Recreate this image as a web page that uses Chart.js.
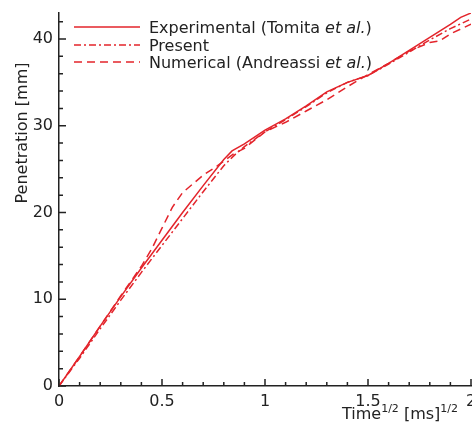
<!DOCTYPE html>
<html>
<head>
<meta charset="utf-8">
<script src="https://cdn.jsdelivr.net/npm/chart.js@4.4.1/dist/chart.umd.min.js"></script>
<style>
html,body{margin:0;padding:0;background:#fff;}
#wrap{width:472px;height:426px;position:relative;}
</style>
</head>
<body>
<div id="wrap"><canvas id="c" width="472" height="426"></canvas></div>
<script>
// ---- data ----
const expT = [0, 0.1, 0.2, 0.3, 0.4, 0.5, 0.6, 0.7, 0.8, 0.84, 0.9, 1.0, 1.1, 1.2, 1.3, 1.4, 1.5, 1.6, 1.7, 1.8, 1.9, 1.95, 2.0];
const expP = [0, 3.4, 6.9, 10.3, 13.6, 16.8, 20.0, 23.1, 26.1, 27.1, 27.9, 29.5, 30.8, 32.3, 33.9, 35.0, 35.8, 37.2, 38.7, 40.2, 41.7, 42.5, 43.0];

const preT = [0, 0.1, 0.2, 0.3, 0.4, 0.5, 0.6, 0.7, 0.8, 0.86, 0.9, 1.0, 1.1, 1.2, 1.3, 1.4, 1.5, 1.6, 1.7, 1.8, 1.9, 2.0];
const preP = [0, 3.2, 6.6, 9.9, 13.1, 16.2, 19.3, 22.4, 25.4, 26.8, 27.6, 29.3, 30.7, 32.2, 33.8, 35.0, 35.8, 37.1, 38.5, 39.9, 41.2, 42.3];

const numT = [0, 0.1, 0.2, 0.3, 0.4, 0.45, 0.5, 0.55, 0.6, 0.7, 0.77, 0.85, 0.9, 1.0, 1.1, 1.2, 1.3, 1.4, 1.5, 1.6, 1.7, 1.8, 1.85, 1.9, 2.0];
const numP = [0, 3.4, 6.9, 10.4, 13.8, 15.8, 18.2, 20.6, 22.3, 24.3, 25.4, 26.8, 27.4, 29.3, 30.4, 31.7, 33.0, 34.5, 35.9, 37.2, 38.6, 39.6, 39.8, 40.6, 41.7];

const xTicks = [0, 0.5, 1, 1.5, 2];
const xMinor = [0.1,0.2,0.3,0.4,0.6,0.7,0.8,0.9,1.1,1.2,1.3,1.4,1.6,1.7,1.8,1.9];
const yTicks = [0, 10, 20, 30, 40];
const yMinor = [2,4,6,8,12,14,16,18,22,24,26,28,32,34,36,38,42];

const legendLabels = [
  [["Experimental (Tomita ", false], ["et al.", true], [")", false]],
  [["Present", false]],
  [["Numerical (Andreassi ", false], ["et al.", true], [")", false]]
];
const xTitle = [["Time", false], ["1/2", true], [" [ms]", false], ["1/2", true]];
const yTitle = "Penetration [mm]";

// ---- style ----
const RED = '#e3242b';
const FONT = 'DejaVu Sans';
const AX = '#222';

function pts(t, p){ return t.map((v,i)=>({x:v, y:p[i]})); }

const overlay = {
  id: 'overlay',
  afterDraw(chart){
    const ctx = chart.ctx;
    const xs = chart.scales.x, ys = chart.scales.y;
    const top = chart.chartArea.top, bottom = chart.chartArea.bottom, left = chart.chartArea.left;
    ctx.save();
    // inward tick marks
    ctx.strokeStyle = AX; ctx.lineWidth = 1.5;
    ctx.beginPath();
    xTicks.forEach(v=>{const px=xs.getPixelForValue(v); ctx.moveTo(px,bottom); ctx.lineTo(px,bottom-7);});
    xMinor.forEach(v=>{const px=xs.getPixelForValue(v); ctx.moveTo(px,bottom); ctx.lineTo(px,bottom-4);});
    yTicks.forEach(v=>{const py=ys.getPixelForValue(v); ctx.moveTo(left,py); ctx.lineTo(left+7,py);});
    yMinor.forEach(v=>{const py=ys.getPixelForValue(v); ctx.moveTo(left,py); ctx.lineTo(left+4,py);});
    ctx.stroke();

    // legend
    const rows = [27, 45, 62];
    chart.data.datasets.forEach((ds,i)=>{
      const y = rows[i];
      ctx.strokeStyle = ds.borderColor; ctx.lineWidth = ds.borderWidth;
      ctx.setLineDash(ds.borderDash || []);
      ctx.beginPath(); ctx.moveTo(74,y); ctx.lineTo(140,y); ctx.stroke();
      ctx.setLineDash([]);
      let x = 149;
      ctx.fillStyle = '#222'; ctx.textBaseline = 'alphabetic'; ctx.textAlign = 'left';
      legendLabels[i].forEach(([s,it])=>{
        ctx.font = (it?'italic ':'') + '16px "' + FONT + '"';
        ctx.fillText(s, x, y+6);
        x += ctx.measureText(s).width;
      });
    });

    // x title
    let x = 342; const base = 419;
    ctx.fillStyle = '#222';
    xTitle.forEach(([s,sup])=>{
      ctx.font = (sup? '11px "' : '16px "') + FONT + '"';
      ctx.fillText(s, x, sup ? base-7 : base);
      x += ctx.measureText(s).width;
    });

    // y title
    ctx.translate(23, 133);
    ctx.rotate(-Math.PI/2);
    ctx.font = '16px "' + FONT + '"';
    ctx.textAlign = 'center'; ctx.textBaseline = 'middle';
    ctx.fillText(yTitle, 0, 0);
    ctx.restore();
  }
};

new Chart(document.getElementById('c'), {
  type: 'scatter',
  data: {
    datasets: [
      {label:'Experimental', data: pts(expT, expP), showLine:true, borderColor:RED, borderWidth:1.5, pointRadius:0, tension:0},
      {label:'Present', data: pts(preT, preP), showLine:true, borderColor:RED, borderWidth:1.5, borderDash:[7,3,2,3], pointRadius:0, tension:0},
      {label:'Numerical', data: pts(numT, numP), showLine:true, borderColor:RED, borderWidth:1.5, borderDash:[8,5], pointRadius:0, tension:0}
    ]
  },
  options: {
    responsive:false, animation:false,
    layout:{padding:{top:13, right:1, left:0, bottom:0}},
    plugins:{legend:{display:false}, tooltip:{enabled:false}},
    scales:{
      x:{
        type:'linear', min:0, max:2,
        grid:{display:false, drawTicks:false},
        border:{display:true, color:AX, width:1.5},
        ticks:{color:'#222', font:{family:FONT, size:16}, padding:6, maxRotation:0, autoSkip:false,
          callback:(v)=>String(v)},
        afterBuildTicks:(s)=>{ s.ticks = xTicks.map(v=>({value:v})); },
        afterFit:(s)=>{ s.height = 40; s.paddingLeft = 0; s.paddingRight = 0; }
      },
      y:{
        type:'linear', min:0, max:43,
        grid:{display:false, drawTicks:false},
        border:{display:true, color:AX, width:1.5},
        ticks:{color:'#222', font:{family:FONT, size:16}, padding:6, autoSkip:false,
          callback:(v)=>String(v)},
        afterBuildTicks:(s)=>{ s.ticks = yTicks.map(v=>({value:v})); },
        afterFit:(s)=>{ s.width = 59; s.paddingTop = 0; s.paddingBottom = 0; }
      }
    }
  },
  plugins:[overlay]
});
</script>
</body>
</html>
